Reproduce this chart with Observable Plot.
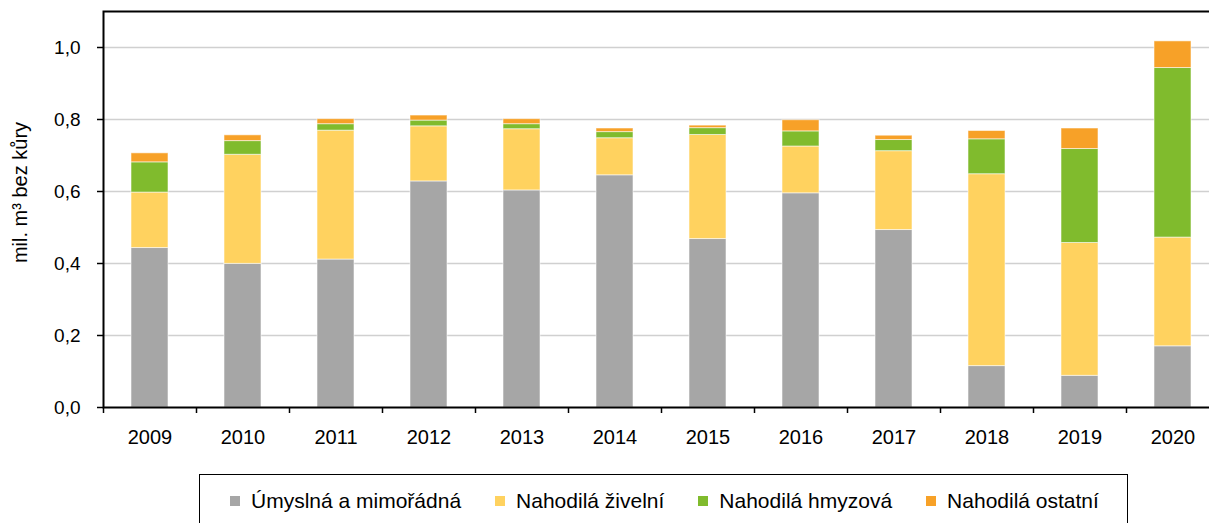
<!DOCTYPE html>
<html>
<head>
<meta charset="utf-8">
<script src="https://cdn.jsdelivr.net/npm/d3@7"></script>
<script src="https://cdn.jsdelivr.net/npm/@observablehq/plot@0.6"></script>
<style>
  html, body { margin: 0; padding: 0; background: #fff; overflow: hidden; }
  body { font-family: "Liberation Sans", Arial, sans-serif; color: #000; width: 1209px; height: 523px; position: relative; }
  #chart { position: absolute; left: 0; top: 0; }
  #legend {
    position: absolute; left: 199px; top: 474px; width: 929px; height: 60px;
    border: 1.5px solid #000; box-sizing: border-box;
    display: flex; justify-content: flex-start; align-items: flex-start; gap: 34px;
    padding-top: 14px; padding-left: 30px; font-size: 21px;
  }
  .item { display: flex; align-items: center; white-space: nowrap; }
  .sw { width: 10px; height: 10px; margin-right: 11px; display: inline-block; }
</style>
</head>
<body>
<div id="chart"></div>
<div id="legend"></div>
<script>
// ---- data (mil. m3 bez kůry) ----
const years = ["2009","2010","2011","2012","2013","2014","2015","2016","2017","2018","2019","2020"];
const umyslna = [0.443, 0.399, 0.411, 0.628, 0.603, 0.645, 0.468, 0.595, 0.493, 0.115, 0.088, 0.170];
const zivelni = [0.154, 0.303, 0.358, 0.153, 0.170, 0.103, 0.289, 0.130, 0.219, 0.533, 0.369, 0.302];
const hmyzova = [0.084, 0.038, 0.018, 0.016, 0.014, 0.017, 0.019, 0.042, 0.031, 0.097, 0.261, 0.471];
const ostatni = [0.025, 0.016, 0.014, 0.014, 0.014, 0.010, 0.007, 0.031, 0.012, 0.023, 0.057, 0.074];
const seriesNames = ["Úmyslná a mimořádná", "Nahodilá živelní", "Nahodilá hmyzová", "Nahodilá ostatní"];
const seriesColors = ["#a6a6a6", "#ffd25f", "#80bb2d", "#f7a128"];
const yTicks = [0, 0.2, 0.4, 0.6, 0.8, 1.0];
const yLabel = "mil. m³ bez kůry";

const seriesValues = [umyslna, zivelni, hmyzova, ostatni];
const rows = [];
years.forEach((yr, i) => {
  seriesValues.forEach((arr, k) => rows.push({year: yr, series: seriesNames[k], value: arr[i]}));
});

const fmt = d => d.toFixed(1).replace(".", ",");

const chart = Plot.plot({
  width: 1209,
  height: 460,
  marginLeft: 103,
  marginRight: -10,
  marginTop: 11,
  marginBottom: 53,
  style: {fontFamily: "'Liberation Sans', Arial, sans-serif", color: "#000", background: "#fff", overflow: "visible"},
  x: {domain: years, paddingInner: 0.6, paddingOuter: 0.3, label: null},
  y: {domain: [0, 1.1], label: null},
  color: {domain: seriesNames, range: seriesColors},
  marks: [
    Plot.gridY(yTicks.slice(1), {stroke: "#d0d0d0", strokeOpacity: 1, strokeWidth: 1.5}),
    Plot.barY(rows, Plot.stackY({x: "year", y: "value", fill: "series", order: seriesNames,
      stroke: "#ffffff", strokeOpacity: 0.55, strokeWidth: 1})),
    Plot.frame({stroke: "#000", strokeWidth: 2}),
    Plot.axisY({ticks: yTicks, tickFormat: fmt, tickSize: 6, tickPadding: 17, fontSize: 19, strokeWidth: 1.5}),
    Plot.axisX({tickSize: 0, tickPadding: 22, fontSize: 20}),
    Plot.axisX({tickSize: 6, tickFormat: () => "", dx: -46.5, strokeWidth: 1.5}),
    Plot.text([yLabel], {frameAnchor: "left", textAnchor: "middle", dx: -83, dy: -17, rotate: -90, fontSize: 20, fill: "#000"})
  ]
});
document.getElementById("chart").appendChild(chart);

// legend
const legend = document.getElementById("legend");
seriesNames.forEach((name, k) => {
  const it = document.createElement("div");
  it.className = "item";
  const sw = document.createElement("span");
  sw.className = "sw";
  sw.style.background = seriesColors[k];
  const tx = document.createElement("span");
  tx.textContent = name;
  it.appendChild(sw);
  it.appendChild(tx);
  legend.appendChild(it);
});
</script>
</body>
</html>
